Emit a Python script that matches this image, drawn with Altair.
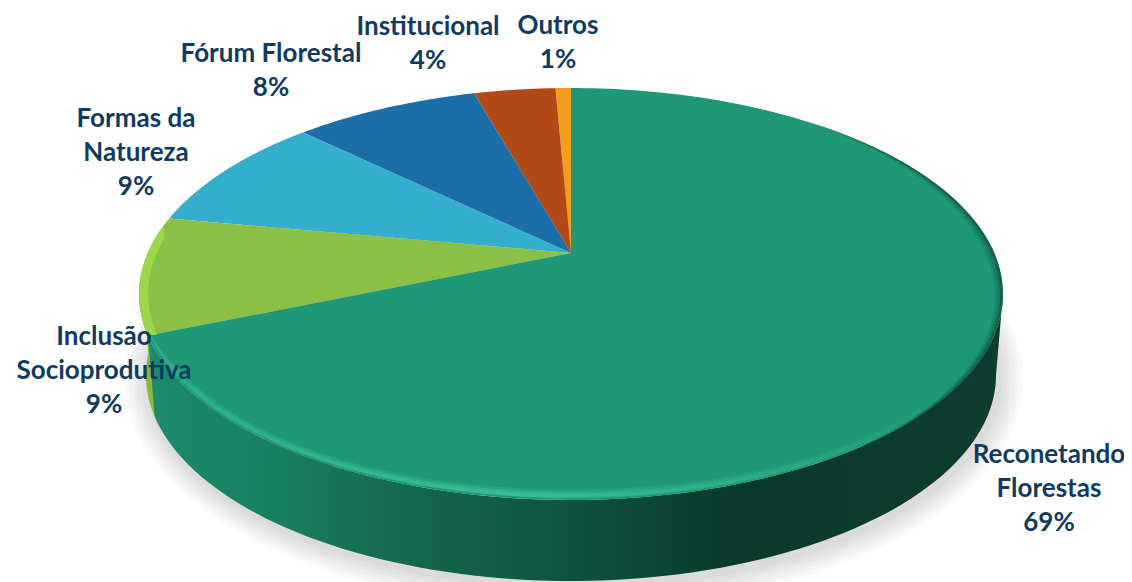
import math
import altair as alt

# values
names = ["Outros", "Institucional", "Fórum Florestal", "Formas da Natureza", "Inclusão Socioprodutiva", "Reconetando Florestas"]
shares = [0.7, 3.7, 8.4, 9.3, 9.2, 68.7]
pct_labels = ["1%", "4%", "8%", "9%", "9%", "69%"]
label_lines = ["Outros", "Institucional", "Fórum Florestal", "Formas da\nNatureza", "Inclusão\nSocioprodutiva", "Reconetando\nFlorestas"]
colors = ["#F09E1C", "#B34917", "#1C6EA8", "#33AECC", "#8BBF45", "#1E9877"]

# label placement (centre of each block's first line)
label_x = [558, 428, 271, 136, 104, 1049]
label_y = [26, 27, 54, 119, 337, 455]

# geometry of the tilted disc, in picture pixels
CX, CY = 571, 253
K = 0.199
A = 197.8
X = 423.3
DEPTH = 81
BOTTOM_SCALE = 0.984


def top(phi_deg):
    p = math.radians(phi_deg)
    d = 1 + K * math.cos(p)
    return [CX - X * math.sin(p) / d, CY - A * math.cos(p) / d]


def bottom(phi_deg):
    x, y = top(phi_deg)
    return [CX + (x - CX) * BOTTOM_SCALE, y + DEPTH]


def arc(a, b, fn=top, n=90):
    return [fn(a + (b - a) * i / n) for i in range(n + 1)]


def feature(ring):
    return {"type": "Feature", "geometry": {"type": "Polygon", "coordinates": [ring + [ring[0]]]}, "properties": {}}


PROJ = dict(type="identity", scale=1, translate=[-8, -8])


def shape(ring, **mark):
    return alt.Chart(alt.Data(values=[feature(ring)])).mark_geoshape(strokeWidth=0, **mark).project(**PROJ)


def hgrad(stops):
    return alt.Gradient(gradient="linear", x1=0, x2=1, y1=0, y2=0, stops=[alt.GradientStop(offset=o, color=c) for o, c in stops])


cum = [0.0]
for s in shares:
    cum.append(cum[-1] + s)
ang = [c * 3.6 for c in cum]
LEFT_EXT = math.degrees(math.acos(-K))
RIGHT_EXT = 360 - LEFT_EXT
START = ang[5]

layers = []

# soft shadow
for g in [24, 20, 16, 12, 8, 4]:
    ring = [[CX + 3 + (x - CX) * (1 + g / 425), y + 4 + (y - 375) * (g / 206)] for x, y in arc(0, 360, bottom, 120)]
    layers.append(shape(ring, fill="#000000", fillOpacity=0.022))

# lime wall, then teal wall
layers.append(shape(arc(LEFT_EXT - 6, START + 2) + arc(START + 2, LEFT_EXT - 6, bottom), fill="#8DB53B"))
layers.append(shape(
    arc(START, RIGHT_EXT) + arc(RIGHT_EXT, START, bottom),
    fill=hgrad([(0, "#1B8C6D"), (0.15, "#1A7F62"), (0.30, "#15694F"), (0.50, "#0F5240"), (0.68, "#093A2C"), (1, "#0C3D2E")]),
))

# slices on the top face
for i in range(6):
    ring = [[CX, CY]] + arc(ang[i], ang[i + 1], n=max(6, int(shares[i] * 3)))
    layers.append(shape(ring, fill=colors[i]))


# bevels
def band(a, b, width, shift=0.0, both=False):
    """crescent just inside the rim, tapered at its ends"""
    outer, inner = [], []
    n = 120
    for i in range(n + 1):
        t = i / n
        phi = a + (b - a) * t
        taper = math.sin(math.pi * t) if both else math.sin(math.pi * min(1, t * 6 + 0.15) / 2)
        w = width * taper
        x, y = top(phi)
        ex, ey = x - CX, y - 294
        l = math.hypot(ex, ey)
        outer.append([x - ex / l * shift, y - ey / l * shift])
        inner.append([x - ex / l * (shift + w), y - ey / l * (shift + w)])
    return outer + inner[::-1]


layers.append(shape(band(ang[4] + 3, START, 9), fill="#9BD748"))
for w, op in [(9, 0.35), (6, 0.6), (3.5, 1.0)]:
    layers.append(shape(
        band(START, 232, w, shift=3.0 - w * 0.15, both=False),
        fill=hgrad([(0, "#2BAE8A"), (0.45, "#36BC96"), (0.8, "#2AAA86"), (1, "#1E9877")]),
        fillOpacity=op,
    ))
for w, op in [(9, 0.14), (6, 0.22), (3, 0.4)]:
    layers.append(shape(
        band(215, 318, w, both=True),
        fill=hgrad([(0, "#0B3D2E"), (1, "#0B3D2E")]),
        fillOpacity=op,
    ))

# labels
rows = [{"t": f"{l}\n{p}", "x": x, "y": y} for l, p, x, y in zip(label_lines, pct_labels, label_x, label_y)]
xs = alt.Scale(domain=[8, 1124], nice=False, zero=False)
ys = alt.Scale(domain=[582, 8], nice=False, zero=False)
text = alt.Chart(alt.Data(values=rows)).mark_text(
    font="Lato", fontWeight="bold", fontSize=26, color="#0F3B5F", lineBreak="\n", lineHeight=34,
    align="center", baseline="middle",
).encode(
    x=alt.X("x:Q", scale=xs, axis=None),
    y=alt.Y("y:Q", scale=ys, axis=None),
    text="t:N",
)
layers.append(text)

chart = alt.layer(*layers).properties(
    width=1116, height=574, padding=0, background="white",
    autosize=alt.AutoSizeParams(type="none"),
).configure_view(stroke=None)

chart.save("out.html", embed_options={"renderer": "svg", "actions": False})
